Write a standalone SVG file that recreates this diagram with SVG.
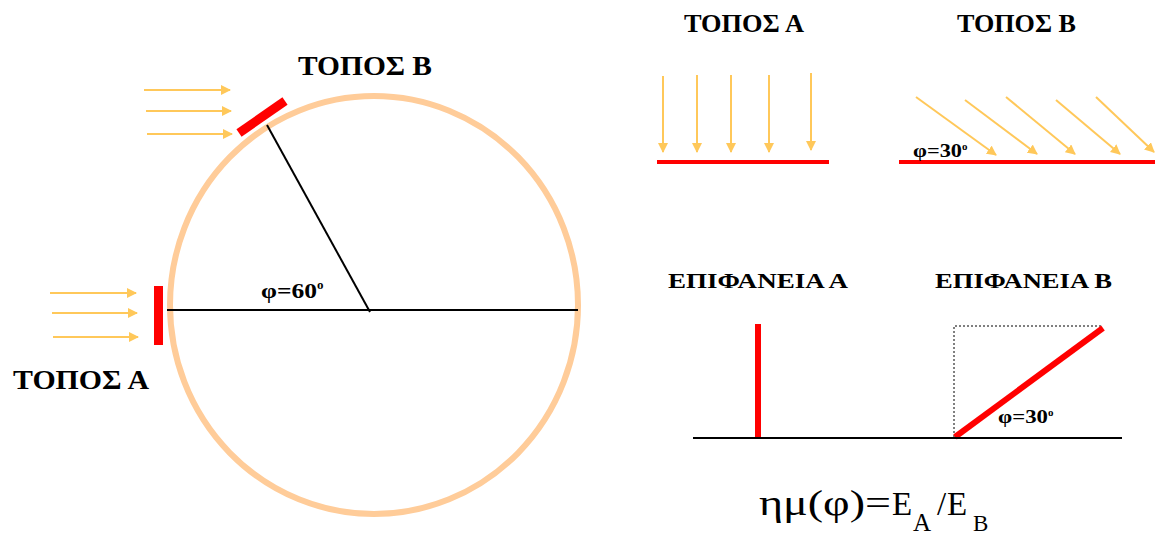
<svg xmlns="http://www.w3.org/2000/svg" width="1155" height="537" viewBox="0 0 1155 537">
<style>
.lbl{font-family:"Liberation Serif","Times New Roman",serif;font-weight:bold;fill:#000}
.fx{font-family:"Liberation Serif","Times New Roman",serif;fill:#000}
.ray{stroke:#FFC85A;stroke-width:2;fill:none}
.red{stroke:#FF0000;fill:none}
.blk{stroke:#000;stroke-width:2;fill:none}
</style>
<defs>
<marker id="ah" viewBox="0 0 10 10" refX="9" refY="5" markerWidth="5" markerHeight="5" orient="auto" markerUnits="strokeWidth">
<path d="M0,0 L10,5 L0,10 z" fill="#FFC85A"/>
</marker>
</defs>
<rect width="1155" height="537" fill="#fff"/>

<g id="earth">
<ellipse cx="374" cy="305" rx="204" ry="209" fill="none" stroke="#FFCC99" stroke-width="6"/>
<line x1="167" y1="310" x2="578" y2="310" class="blk"/>
<line x1="267" y1="125" x2="370" y2="312" class="blk"/>
<text class="lbl" x="261" y="298" font-size="22"><tspan textLength="56" lengthAdjust="spacingAndGlyphs">φ=60</tspan><tspan font-size="13" dy="-9">ο</tspan></text>
</g>

<g id="topos-a-left">
<rect x="154" y="286" width="9" height="59" fill="#FF0000"/>
<text class="lbl" x="13" y="389" font-size="28" textLength="136" lengthAdjust="spacingAndGlyphs">ΤΟΠΟΣ Α</text>
</g>

<g id="topos-b-left">
<line x1="239" y1="133" x2="285" y2="101" class="red" stroke-width="9"/>
<text class="lbl" x="298" y="75" font-size="28" textLength="134" lengthAdjust="spacingAndGlyphs">ΤΟΠΟΣ Β</text>
</g>

<g id="topos-a-right">
<text class="lbl" x="684" y="32" font-size="25" textLength="120" lengthAdjust="spacingAndGlyphs">ΤΟΠΟΣ Α</text>
<line x1="657" y1="162" x2="829" y2="162" class="red" stroke-width="4"/>
</g>

<g id="topos-b-right">
<text class="lbl" x="957" y="32" font-size="25" textLength="119" lengthAdjust="spacingAndGlyphs">ΤΟΠΟΣ Β</text>
<line x1="899" y1="162" x2="1155" y2="162" class="red" stroke-width="4"/>
<text class="lbl" x="913" y="157" font-size="18"><tspan textLength="49" lengthAdjust="spacingAndGlyphs">φ=30</tspan><tspan font-size="11" dy="-7">ο</tspan></text>
</g>

<g id="surface-a">
<text class="lbl" x="668" y="288" font-size="22" textLength="180" lengthAdjust="spacingAndGlyphs">ΕΠΙΦΑΝΕΙΑ Α</text>
<line x1="758" y1="324" x2="758" y2="438" class="red" stroke-width="6"/>
</g>

<g id="surface-b">
<text class="lbl" x="935" y="288" font-size="22" textLength="177" lengthAdjust="spacingAndGlyphs">ΕΠΙΦΑΝΕΙΑ Β</text>
<path d="M954,437 V326 H1102" fill="none" stroke="#000" stroke-width="1" stroke-dasharray="2,2"/>
<line x1="955" y1="437" x2="1103" y2="328" class="red" stroke-width="6"/>
<text class="lbl" x="998" y="423" font-size="18"><tspan textLength="50" lengthAdjust="spacingAndGlyphs">φ=30</tspan><tspan font-size="11" dy="-7">ο</tspan></text>
</g>

<g id="ground">
<line x1="693" y1="438" x2="1122" y2="438" class="blk"/>
</g>

<g id="formula">
<text class="fx" x="759" y="515" font-size="36" textLength="132" lengthAdjust="spacingAndGlyphs">ημ(φ)=</text>
<text class="fx" x="892" y="515" font-size="33">E</text>
<text class="fx" x="913" y="531" font-size="25">A</text>
<text class="fx" x="937" y="515" font-size="33">/</text>
<text class="fx" x="947" y="515" font-size="33">E</text>
<text class="fx" x="973" y="531" font-size="23">B</text>
</g>

<g id="connectors">
<line x1="144" y1="90" x2="230" y2="90" class="ray" marker-end="url(#ah)"/>
<line x1="146" y1="111" x2="231" y2="111" class="ray" marker-end="url(#ah)"/>
<line x1="147" y1="134" x2="232" y2="134" class="ray" marker-end="url(#ah)"/>
<line x1="50" y1="293" x2="136" y2="293" class="ray" marker-end="url(#ah)"/>
<line x1="52" y1="313" x2="137" y2="313" class="ray" marker-end="url(#ah)"/>
<line x1="53" y1="337" x2="138" y2="337" class="ray" marker-end="url(#ah)"/>
<line x1="663" y1="76" x2="663" y2="152" class="ray" marker-end="url(#ah)"/>
<line x1="697" y1="75" x2="697" y2="152" class="ray" marker-end="url(#ah)"/>
<line x1="731" y1="75" x2="731" y2="152" class="ray" marker-end="url(#ah)"/>
<line x1="769" y1="75" x2="769" y2="152" class="ray" marker-end="url(#ah)"/>
<line x1="811" y1="73" x2="811" y2="150" class="ray" marker-end="url(#ah)"/>
<line x1="916" y1="97" x2="996" y2="155" class="ray" marker-end="url(#ah)"/>
<line x1="965" y1="100" x2="1037" y2="154" class="ray" marker-end="url(#ah)"/>
<line x1="1006" y1="97" x2="1075" y2="154" class="ray" marker-end="url(#ah)"/>
<line x1="1056" y1="100" x2="1120" y2="154" class="ray" marker-end="url(#ah)"/>
<line x1="1096" y1="97" x2="1154" y2="152" class="ray" marker-end="url(#ah)"/>
</g>
</svg>
